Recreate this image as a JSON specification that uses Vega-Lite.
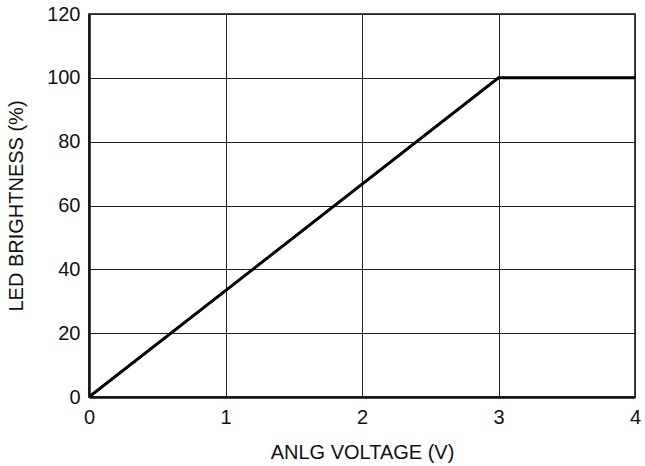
{
  "$schema": "https://vega.github.io/schema/vega-lite/v6.json",
  "width": 546,
  "height": 383,
  "autosize": "none",
  "padding": {"left": 89, "top": 14, "right": 10, "bottom": 69},
  "background": "white",
  "config": {
    "font": "Liberation Sans",
    "view": {"stroke": "#111", "strokeWidth": 1.5}
  },
  "data": {
    "values": [
      {"v": 0, "b": 0},
      {"v": 3, "b": 100},
      {"v": 4, "b": 100}
    ]
  },
  "mark": {"type": "line", "color": "black", "strokeWidth": 3, "clip": true},
  "encoding": {
    "x": {
      "field": "v",
      "type": "quantitative",
      "scale": {"domain": [0, 4], "nice": false},
      "axis": {
        "title": "ANLG VOLTAGE (V)",
        "values": [0, 1, 2, 3, 4],
        "format": "d",
        "grid": true,
        "gridColor": "#222",
        "gridWidth": 1,
        "gridOpacity": 1,
        "ticks": false,
        "domainColor": "#111",
        "domainWidth": 2.5,
        "labelFontSize": 20,
        "labelColor": "#111",
        "labelPadding": 10,
        "labelFlush": false,
        "titleFontSize": 20,
        "titleFontWeight": "normal",
        "titleColor": "#111",
        "titlePadding": 15
      }
    },
    "y": {
      "field": "b",
      "type": "quantitative",
      "scale": {"domain": [0, 120], "nice": false},
      "axis": {
        "title": "LED BRIGHTNESS (%)",
        "values": [0, 20, 40, 60, 80, 100, 120],
        "grid": true,
        "gridColor": "#222",
        "gridWidth": 1,
        "gridOpacity": 1,
        "ticks": false,
        "domainColor": "#111",
        "domainWidth": 2.5,
        "labelFontSize": 20,
        "labelColor": "#111",
        "labelPadding": 9,
        "labelFlush": false,
        "titleFontSize": 20,
        "titleFontWeight": "normal",
        "titleColor": "#111",
        "titlePadding": 20
      }
    }
  }
}
